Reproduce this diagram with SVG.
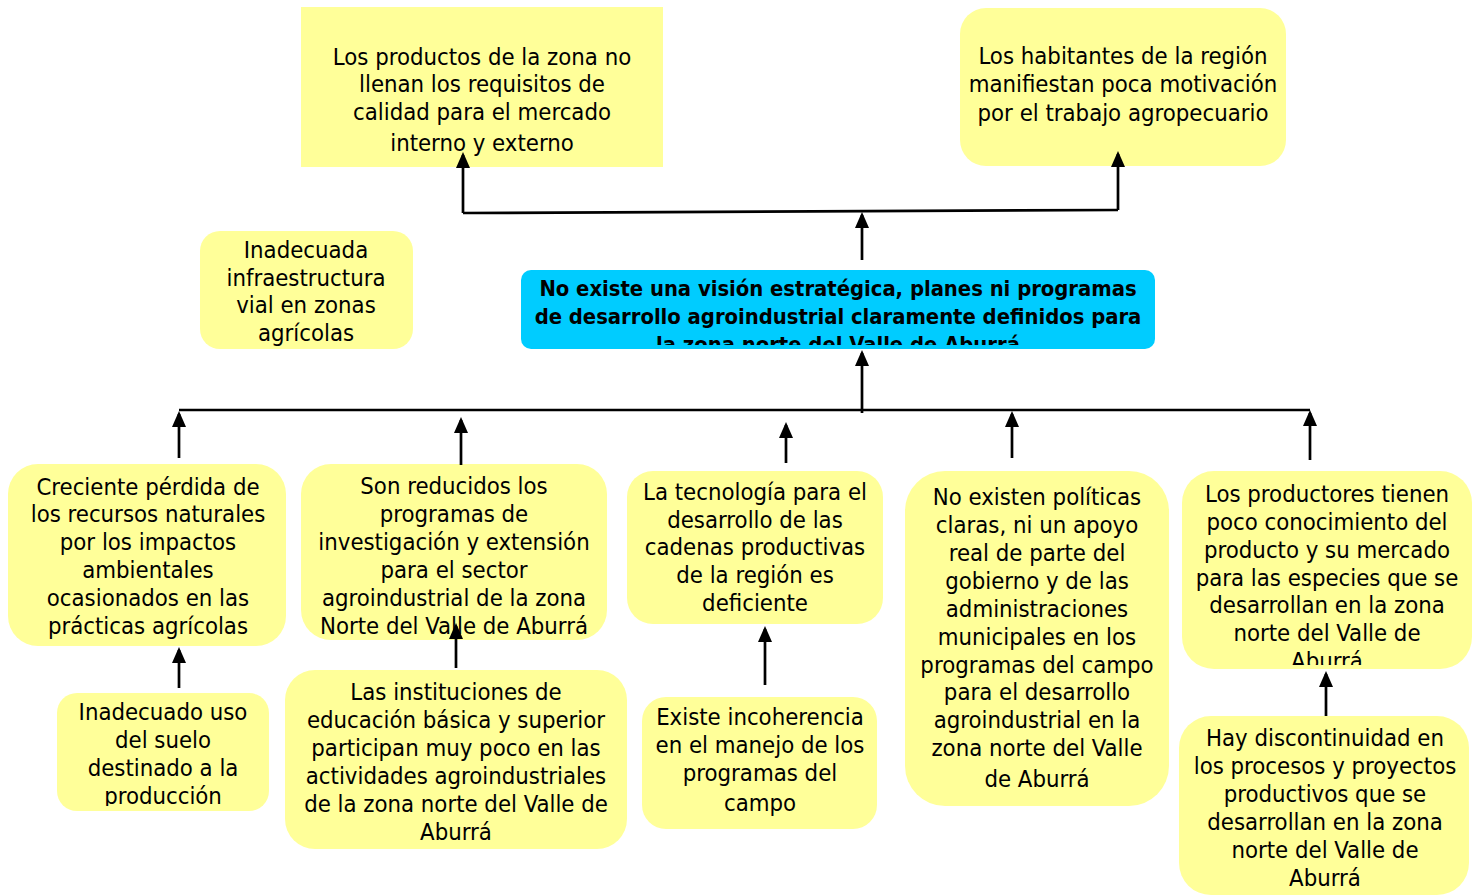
<svg xmlns="http://www.w3.org/2000/svg" width="1478" height="895" viewBox="0 0 1478 895">
<style>
.y{fill:#FFFF99}
.c{fill:#00CCFF}
text{font-family:"DejaVu Sans Condensed","DejaVu Sans",sans-serif;font-stretch:condensed;font-size:23.7px;fill:#000;text-anchor:middle}
.b{font-weight:bold;font-size:21.8px}
.ln{fill:none;stroke:#000;stroke-width:2.7}
</style>
<defs>
<marker id="ah" viewBox="0 0 16 14" refX="13" refY="7" markerWidth="16" markerHeight="14" markerUnits="userSpaceOnUse" orient="auto">
<path d="M0,0 L16,7 L0,14 Z" fill="#000"/>
</marker>
<clipPath id="cl0"><rect x="521" y="270" width="634" height="75"/></clipPath>
<clipPath id="cl5"><rect x="1182" y="471" width="290" height="194"/></clipPath>
<clipPath id="cl6"><rect x="57" y="693" width="212" height="113"/></clipPath>
<clipPath id="cl3"><rect x="200" y="231" width="213" height="115"/></clipPath>
<clipPath id="cl2"><rect x="301" y="464" width="306" height="173"/></clipPath>
</defs>

<g id="n1">
<rect class="y" x="301" y="7" width="362" height="160"/>
<text x="482" y="65">Los productos de la zona no</text>
<text x="482" y="92">llenan los requisitos de</text>
<text x="482" y="120">calidad para el mercado</text>
<text x="482" y="151">interno y externo</text>
</g>

<g id="n2">
<rect class="y" x="960" y="8" width="326" height="158" rx="26"/>
<text x="1123" y="64">Los habitantes de la región</text>
<text x="1123" y="92">manifiestan poca motivación</text>
<text x="1123" y="121">por el trabajo agropecuario</text>
</g>

<g id="n3">
<rect class="y" x="200" y="231" width="213" height="118" rx="20"/>
<g clip-path="url(#cl3)">
<text x="306" y="258">Inadecuada</text>
<text x="306" y="286">infraestructura</text>
<text x="306" y="313">vial en zonas</text>
<text x="306" y="341">agrícolas</text>
</g>
</g>

<g id="n0">
<rect class="c" x="521" y="270" width="634" height="79" rx="10"/>
<g clip-path="url(#cl0)">
<text class="b" x="838" y="296">No existe una visión estratégica, planes ni programas</text>
<text class="b" x="838" y="324">de desarrollo agroindustrial claramente definidos para</text>
<text class="b" x="838" y="352">la zona norte del Valle de Aburrá</text>
</g>
</g>

<g id="n4">
<rect class="y" x="8" y="464" width="278" height="182" rx="30"/>
<text x="148" y="495">Creciente pérdida de</text>
<text x="148" y="522">los recursos naturales</text>
<text x="148" y="550">por los impactos</text>
<text x="148" y="578">ambientales</text>
<text x="148" y="606">ocasionados en las</text>
<text x="148" y="634">prácticas agrícolas</text>
</g>

<g id="n5">
<rect class="y" x="301" y="464" width="306" height="176" rx="30"/>
<g clip-path="url(#cl2)">
<text x="454" y="494">Son reducidos los</text>
<text x="454" y="522">programas de</text>
<text x="454" y="550">investigación y extensión</text>
<text x="454" y="578">para el sector</text>
<text x="454" y="606">agroindustrial de la zona</text>
<text x="454" y="634">Norte del Valle de Aburrá</text>
</g>
</g>

<g id="n6">
<rect class="y" x="627" y="471" width="256" height="153" rx="26"/>
<text x="755" y="500">La tecnología para el</text>
<text x="755" y="528">desarrollo de las</text>
<text x="755" y="555">cadenas productivas</text>
<text x="755" y="583">de la región es</text>
<text x="755" y="611">deficiente</text>
</g>

<g id="n7">
<rect class="y" x="905" y="471" width="264" height="335" rx="40"/>
<text x="1037" y="505">No existen políticas</text>
<text x="1037" y="533">claras, ni un apoyo</text>
<text x="1037" y="561">real de parte del</text>
<text x="1037" y="589">gobierno y de las</text>
<text x="1037" y="617">administraciones</text>
<text x="1037" y="645">municipales en los</text>
<text x="1037" y="673">programas del campo</text>
<text x="1037" y="700">para el desarrollo</text>
<text x="1037" y="728">agroindustrial en la</text>
<text x="1037" y="756">zona norte del Valle</text>
<text x="1037" y="787">de Aburrá</text>
</g>

<g id="n8">
<rect class="y" x="1182" y="471" width="290" height="198" rx="32"/>
<g clip-path="url(#cl5)">
<text x="1327" y="502">Los productores tienen</text>
<text x="1327" y="530">poco conocimiento del</text>
<text x="1327" y="558">producto y su mercado</text>
<text x="1327" y="586">para las especies que se</text>
<text x="1327" y="613">desarrollan en la zona</text>
<text x="1327" y="641">norte del Valle de</text>
<text x="1327" y="669">Aburrá</text>
</g>
</g>

<g id="n9">
<rect class="y" x="57" y="693" width="212" height="118" rx="20"/>
<g clip-path="url(#cl6)">
<text x="163" y="720">Inadecuado uso</text>
<text x="163" y="748">del suelo</text>
<text x="163" y="776">destinado a la</text>
<text x="163" y="804">producción</text>
</g>
</g>

<g id="n10">
<rect class="y" x="285" y="670" width="342" height="179" rx="30"/>
<text x="456" y="700">Las instituciones de</text>
<text x="456" y="728">educación básica y superior</text>
<text x="456" y="756">participan muy poco en las</text>
<text x="456" y="784">actividades agroindustriales</text>
<text x="456" y="812">de la zona norte del Valle de</text>
<text x="456" y="840">Aburrá</text>
</g>

<g id="n11">
<rect class="y" x="642" y="697" width="235" height="132" rx="24"/>
<text x="760" y="725">Existe incoherencia</text>
<text x="760" y="753">en el manejo de los</text>
<text x="760" y="781">programas del</text>
<text x="760" y="811">campo</text>
</g>

<g id="n12">
<rect class="y" x="1179" y="716" width="290" height="179" rx="32"/>
<text x="1325" y="746">Hay discontinuidad en</text>
<text x="1325" y="774">los procesos y proyectos</text>
<text x="1325" y="802">productivos que se</text>
<text x="1325" y="830">desarrollan en la zona</text>
<text x="1325" y="858">norte del Valle de</text>
<text x="1325" y="886">Aburrá</text>
</g>

<g id="connectors">
<line class="ln" x1="862" y1="260" x2="862" y2="215" marker-end="url(#ah)"/>
<polyline class="ln" points="463,213 1118,210"/>
<line class="ln" x1="463" y1="213" x2="463" y2="155" marker-end="url(#ah)"/>
<line class="ln" x1="1118" y1="210" x2="1118" y2="154" marker-end="url(#ah)"/>
<line class="ln" x1="862" y1="413" x2="862" y2="353" marker-end="url(#ah)"/>
<line class="ln" x1="179" y1="410" x2="1310" y2="410"/>
<line class="ln" x1="179" y1="458" x2="179" y2="414" marker-end="url(#ah)"/>
<line class="ln" x1="461" y1="465" x2="461" y2="420" marker-end="url(#ah)"/>
<line class="ln" x1="786" y1="463" x2="786" y2="425" marker-end="url(#ah)"/>
<line class="ln" x1="1012" y1="458" x2="1012" y2="414" marker-end="url(#ah)"/>
<line class="ln" x1="1310" y1="460" x2="1310" y2="413" marker-end="url(#ah)"/>
<line class="ln" x1="179" y1="688" x2="179" y2="650" marker-end="url(#ah)"/>
<line class="ln" x1="456" y1="668" x2="456" y2="626" marker-end="url(#ah)"/>
<line class="ln" x1="765" y1="685" x2="765" y2="629" marker-end="url(#ah)"/>
<line class="ln" x1="1326" y1="716" x2="1326" y2="674" marker-end="url(#ah)"/>
</g>
</svg>
